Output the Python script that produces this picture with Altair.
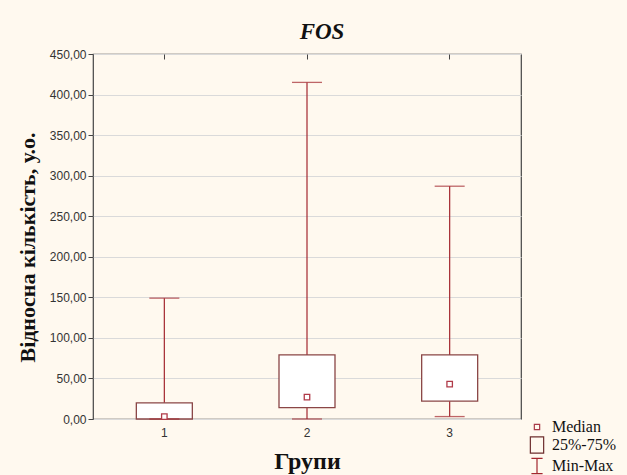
import altair as alt
import pandas as pd

groups = ["1", "2", "3"]
mins = [0, 0, 3]
q1 = [0, 14, 22]
medians = [3, 27, 43]
q3 = [20, 79, 79]
maxs = [149, 415, 287]

legend_items = ["Median", "25%-75%", "Min-Max"]
legend_shapes = [
    "M-0.38,-0.38H0.38V0.38H-0.38Z",
    "M-0.95,-1.15H0.95V1.15H-0.95Z",
    "M-0.8,-1.1H0.8M0,-1.1V1.1M-0.8,1.1H0.8",
]
legend_colors = ["#A83A48", "#6E2E2E", "#A3262E"]

df = pd.DataFrame({"group": groups, "min": mins, "q1": q1, "median": medians, "q3": q3, "max": maxs})
legend_df = pd.DataFrame({"item": legend_items})

WHISK = "#A3262E"
BOX = "#8A4646"
MED = "#B03A48"

x_scale = alt.Scale(paddingInner=0, paddingOuter=0)
x_enc = alt.X(
    "group:N",
    sort=groups,
    scale=x_scale,
    axis=alt.Axis(
        title="Групи", labelAngle=0, ticks=False, domain=False, labelPadding=8,
        labelFont="Liberation Sans", labelFontSize=12, labelColor="#333333",
        titleFont="Liberation Serif", titleFontSize=24, titleFontWeight="bold",
        titleColor="#111111", titlePadding=11,
    ),
)
x_plain = alt.X("group:N", sort=groups, scale=x_scale, axis=None)
y_scale = alt.Scale(domain=[0, 450], nice=False)
y_axis = alt.Axis(
    title="Відносна кількість, у.о.", values=list(range(0, 451, 50)),
    labelExpr="replace(format(datum.value, '.2f'), '.', ',')",
    labelFont="Liberation Sans", labelFontSize=12, labelColor="#333333",
    tickSize=5, tickColor="#444444", domain=False, grid=True, gridColor="#DADADA",
    titleFont="Liberation Serif", titleFontSize=22, titleFontWeight="bold",
    titleColor="#111111", titlePadding=10, titleY=193,
)

base = alt.Chart(df)

whisker = base.mark_rule(color=WHISK, strokeWidth=1.2).encode(
    x=x_enc, y=alt.Y("min:Q", scale=y_scale, axis=y_axis), y2="max:Q"
)
top_axis = base.mark_rule(opacity=0).encode(
    x=alt.X("group:N", sort=groups, scale=x_scale,
            axis=alt.Axis(orient="top", labels=False, title=None, domain=False,
                          tickSize=5, tickColor="#444444", offset=-5)),
    y=alt.Y("min:Q", scale=y_scale),
)
box = base.mark_bar(size=56, fill="white", stroke=BOX, strokeWidth=1.3).encode(
    x=x_plain, y=alt.Y("q1:Q", scale=y_scale), y2="q3:Q"
)
cap_max = base.mark_tick(size=30, thickness=1.3, color=WHISK, orient="horizontal").encode(
    x=x_plain, y=alt.Y("max:Q", scale=y_scale)
)
cap_min = base.mark_tick(size=30, thickness=1.3, color=WHISK, orient="horizontal").encode(
    x=x_plain, y=alt.Y("min:Q", scale=y_scale)
)
median = base.mark_point(shape="square", size=30, filled=False, fill="white", stroke=MED, strokeWidth=1.3, opacity=1).encode(
    x=x_plain, y=alt.Y("median:Q", scale=y_scale)
)

leg = alt.Legend(
    title=None, orient="none", legendX=436, legendY=365, symbolSize=196,
    symbolStrokeWidth=1.2, labelFont="Liberation Serif", labelFontSize=16,
    labelLimit=200, labelColor="#111111", labelOffset=7, rowPadding=-1, symbolType="square",
)
legend_layer = alt.Chart(legend_df).mark_point(filled=False, strokeWidth=1.2, opacity=1).encode(
    shape=alt.Shape("item:N", sort=legend_items,
                    scale=alt.Scale(domain=legend_items, range=legend_shapes), legend=leg),
    color=alt.Color("item:N", sort=legend_items,
                    scale=alt.Scale(domain=legend_items, range=legend_colors), legend=leg),
).transform_filter("false")

chart = alt.layer(whisker, top_axis, box, cap_max, cap_min, median, legend_layer).resolve_scale(
    x="shared", y="shared"
).resolve_axis(x="independent").properties(
    width=428, height=365,
    title=alt.TitleParams("FOS", font="Liberation Serif", fontSize=23, fontStyle="italic",
                          fontWeight="bold", color="#111111", offset=4, dx=15),
    autosize=alt.AutoSizeParams(type="none"),
    padding={"left": 93, "top": 54, "right": 106, "bottom": 56},
    background="#FFF9EF",
).configure_view(fill="white", stroke="#444444", strokeWidth=1.2)

chart.save("out.html", embed_options={"renderer": "svg", "actions": False})
